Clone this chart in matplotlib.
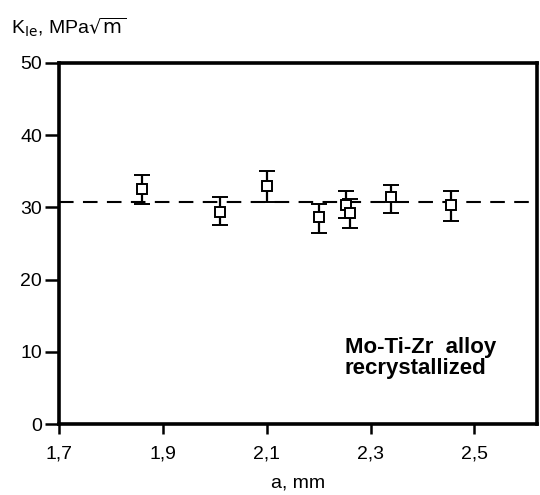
import numpy as np
import matplotlib.pyplot as plt

plt.rcParams['font.family'] = ['Liberation Sans', 'DejaVu Sans']

# crack length a (mm) and K_Ie values
crack_a = [1.86, 2.01, 2.10, 2.20, 2.253, 2.26, 2.34, 2.455]
k_ie = [32.5, 29.4, 33.0, 28.7, 30.4, 29.2, 31.4, 30.3]
k_hi = [34.5, 31.5, 35.1, 30.5, 32.3, 31.1, 33.1, 32.3]
k_lo = [30.5, 27.6, 30.8, 26.5, 28.5, 27.1, 29.2, 28.1]

fit_a = [1.7, 2.62]
fit_k = [30.7, 30.7]

x_ticks = [1.7, 1.9, 2.1, 2.3, 2.5]
x_tick_labels = ["1,7", "1,9", "2,1", "2,3", "2,5"]
y_ticks = [0, 10, 20, 30, 40, 50]

fig = plt.figure(figsize=(5.4, 4.95), dpi=100)
ax = fig.add_axes([0.109, 0.143, 0.885, 0.73])

k = np.array(k_ie)
err = [k - np.array(k_lo), np.array(k_hi) - k]
ax.errorbar(crack_a, k_ie, yerr=err, fmt='s', mfc='white', mec='black', ms=7,
            mew=1.4, ecolor='black', elinewidth=1.6, capsize=6, capthick=1.6, zorder=3)

# fitted line
ax.plot(fit_a, fit_k, linestyle=(0, (7, 4.5)), color='black', lw=1.5, zorder=2)

ax.set_xlim(1.7, 2.62)
ax.set_ylim(0, 50)
ax.set_xticks(x_ticks)
ax.set_xticklabels(x_tick_labels)
ax.set_yticks(y_ticks)
ax.tick_params(axis='x', direction='out', length=7, width=1.8, labelsize=14, pad=8)
ax.tick_params(axis='y', direction='out', length=10, width=1.8, labelsize=14, pad=2)
for s in ax.spines.values():
    s.set_linewidth(2.6)

ax.set_xlabel("a, mm", fontsize=14, labelpad=9)
fig.text(0.02, 0.945, r"K$_{\mathrm{Ie}}$, MPa$\sqrt{\mathrm{m}}$", fontsize=14, ha='left', va='center')

ax.text(0.598, 0.183, "Mo-Ti-Zr  alloy\nrecrystallized", transform=ax.transAxes,
        fontsize=16, fontweight='bold', ha='left', va='center', linespacing=1.05)

fig.savefig("out.png", dpi=100)
